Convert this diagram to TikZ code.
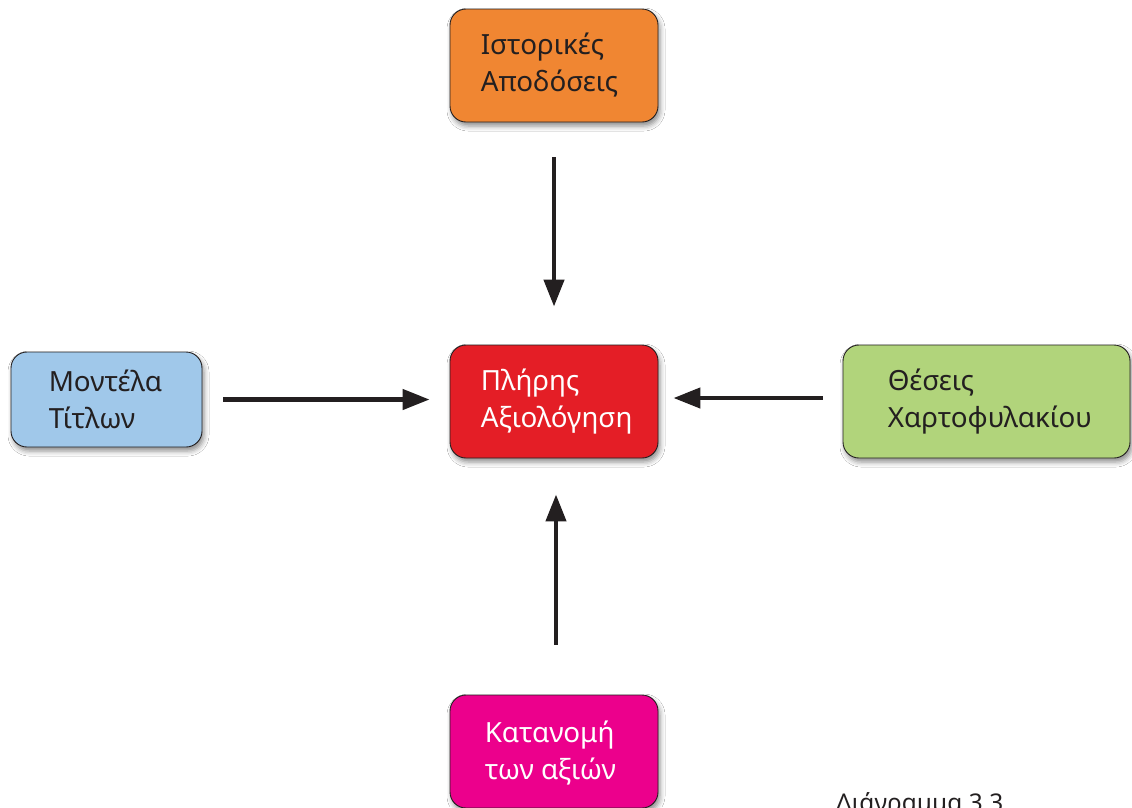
\documentclass[tikz,border=0pt]{standalone}
\usepackage{fontspec}
\setmainfont{Noto Sans}
\usetikzlibrary{arrows.meta,shadows.blur}
\definecolor{cOrange}{RGB}{240,134,50}
\definecolor{cRed}{RGB}{228,30,38}
\definecolor{cBlue}{RGB}{160,200,234}
\definecolor{cGreen}{RGB}{177,212,123}
\definecolor{cMagenta}{RGB}{236,0,140}
\definecolor{cInk}{RGB}{35,31,32}
\begin{document}
\begin{tikzpicture}[x=1pt,y=-1pt,
  box/.style={draw=cInk, line width=0.9pt, rounded corners=16pt, inner sep=0pt,
    blur shadow={shadow xshift=2pt, shadow yshift=-4pt, shadow blur radius=5pt, shadow opacity=45}},
  txt/.style={anchor=west, align=left, inner sep=0pt, font=\fontsize{27.8}{37}\selectfont, text=cInk},
  wtxt/.style={txt, text=white},
  conn/.style={draw=cInk, line width=4.5pt, -{Triangle[length=27pt,width=20pt]}},
  captiontext/.style={anchor=base west, inner sep=0pt, font=\fontsize{24.4}{30}\selectfont, text=cInk}
]
\useasboundingbox (0,0) rectangle (1132,807);
\fill[white] (0,0) rectangle (1132,807);

\node[box, fill=cOrange, minimum width=208pt, minimum height=113pt] (hist) at (554,65.5) {};
\node[txt] (histt) at ([xshift=31pt,yshift=0pt]hist.west) {Ιστορικές\\Αποδόσεις};

\node[box, fill=cRed, minimum width=208pt, minimum height=113pt] (eval) at (554,401.5) {};
\node[wtxt] (evalt) at ([xshift=31pt]eval.west) {Πλήρης\\Αξιολόγηση};

\node[box, fill=cBlue, minimum width=191pt, minimum height=95pt] (titl) at (106.5,399.5) {};
\node[txt] (titlt) at ([xshift=38pt]titl.west) {Μοντέλα\\Τίτλων};

\node[box, fill=cGreen, minimum width=287pt, minimum height=113pt] (port) at (986.5,401.5) {};
\node[txt] (portt) at ([xshift=45pt]port.west) {Θέσεις\\Χαρτοφυλακίου};

\node[box, fill=cMagenta, minimum width=208pt, minimum height=113pt] (alloc) at (554,751.5) {};
\node[wtxt] (alloct) at ([xshift=35pt,yshift=-2pt]alloc.west) {Κατανομή\\των αξιών};

\node[captiontext] (caption) at (836,811) {Διάγραμμα 3.3};

\draw[conn, shorten <=35pt, shorten >=38pt] (hist.south) -- (eval.north);
\draw[conn, shorten <=50pt, shorten >=36pt] ([xshift=2pt]alloc.north) -- ([xshift=2pt]eval.south);
\draw[conn, shorten <=21pt, shorten >=20pt] (titl.east) -- (titl.east -| eval.west);
\draw[conn, shorten <=20pt, shorten >=15pt] ([yshift=3.5pt]port.west) -- ([yshift=3.5pt]eval.east);
\end{tikzpicture}
\end{document}
